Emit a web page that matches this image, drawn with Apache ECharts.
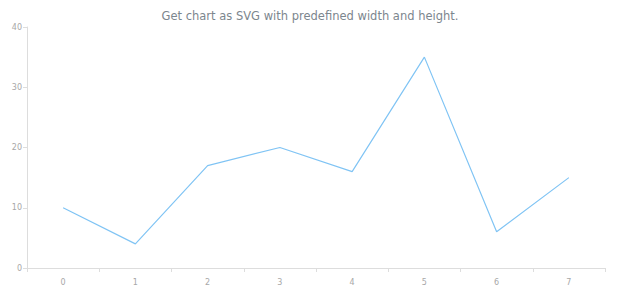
<!DOCTYPE html>
<html><head><meta charset="utf-8">
<script src="https://cdn.jsdelivr.net/npm/echarts@6/dist/echarts.min.js"></script>
<style>html,body{margin:0;padding:0;background:#fff}#c{width:620px;height:300px}</style>
</head><body><div id="c"></div>
<script>
const categories = ['0','1','2','3','4','5','6','7'];
const values = [10, 4, 17, 20, 16, 35, 6, 15];
const titleText = 'Get chart as SVG with predefined width and height.';
const chart = echarts.init(document.getElementById('c'), null, {renderer:'svg'});
chart.setOption({
  animation:false,
  backgroundColor:'#ffffff',
  title:{text:titleText,left:'center',top:5,textStyle:{fontFamily:'DejaVu Sans',fontSize:11.5,fontWeight:'normal',color:'#7c868e'}},
  grid:{left:27,right:15,top:27,bottom:32,containLabel:false},
  xAxis:{type:'category',data:categories,boundaryGap:true,
    axisLine:{show:true,lineStyle:{color:'#dddddd'}},
    axisTick:{show:true,length:4,lineStyle:{color:'#dddddd'}},
    axisLabel:{color:'#a8a8a8',fontFamily:'DejaVu Sans',fontSize:8,margin:10},
    splitLine:{show:false}},
  yAxis:{type:'value',min:0,max:40,interval:10,
    axisLine:{show:true,lineStyle:{color:'#dddddd'}},
    axisTick:{show:true,length:4,lineStyle:{color:'#dddddd'}},
    axisLabel:{color:'#a8a8a8',fontFamily:'DejaVu Sans',fontSize:8,margin:5},
    splitLine:{show:false}},
  series:[{type:'line',data:values,symbol:'none',lineStyle:{color:'#80c4f4',width:1.2}}]
});
</script></body></html>
